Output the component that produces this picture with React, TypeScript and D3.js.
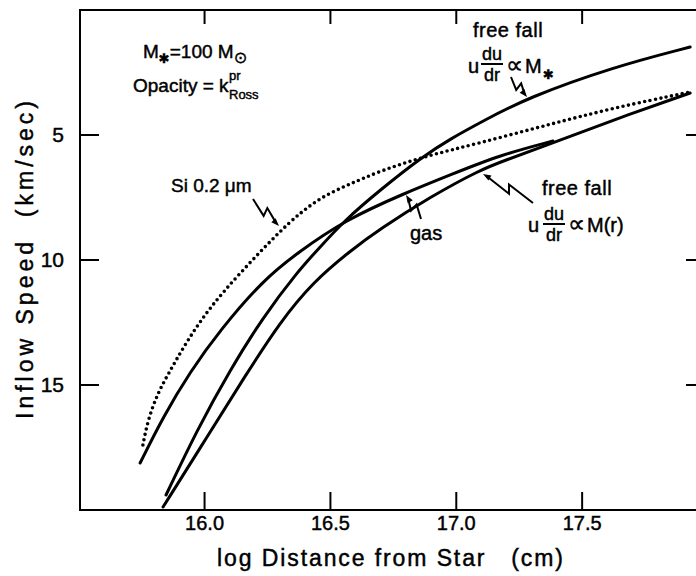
import React from 'react';
import * as d3 from 'd3';

// ---- data (log distance [cm], inflow speed [km/s]) ----
const xTicks = [16.0, 16.5, 17.0, 17.5];
const yTicks = [5, 10, 15];

const siLogR = [15.755, 15.775, 15.811, 15.851, 15.93, 16.022, 16.141, 16.292, 16.379, 16.471, 16.578, 16.697, 16.864, 17.094, 17.36, 17.623, 17.929];
const siSpeed = [17.4, 16.4, 15.4, 14.64, 13.24, 11.88, 10.52, 8.92, 8.12, 7.44, 6.96, 6.44, 5.88, 5.32, 4.6, 3.92, 3.28];

const gasLogR = [15.744, 15.835, 15.942, 16.062, 16.233, 16.368, 16.558, 16.797, 16.975, 17.174, 17.384];
const gasSpeed = [18.12, 16.28, 14.48, 12.8, 10.8, 9.72, 8.4, 7.32, 6.6, 5.8, 5.24];

const ffStarLogR = [15.847, 15.97, 16.101, 16.233, 16.368, 16.459, 16.558, 16.697, 16.864, 16.975, 17.114, 17.281, 17.623, 17.929];
const ffStarSpeed = [19.4, 16.8, 14.4, 12.28, 10.48, 9.48, 8.4, 7.2, 5.88, 5.16, 4.4, 3.52, 2.28, 1.48];

const ffMrLogR = [15.835, 16.01, 16.161, 16.3, 16.431, 16.578, 16.697, 16.896, 17.094, 17.186, 17.384, 17.623, 17.929];
const ffMrSpeed = [19.88, 17.08, 14.64, 12.48, 10.88, 9.64, 8.76, 7.48, 6.4, 6.04, 5.32, 4.4, 3.32];

const W = 696;
const H = 576;
const FONT = "'Liberation Sans', 'DejaVu Sans', Arial, sans-serif";

const x = d3.scaleLinear().domain([15.5, 18.0]).range([78.7, 708]);
const y = d3.scaleLinear().domain([0, 20]).range([10, 510]);

const line = d3
  .line<[number, number]>()
  .x((d) => x(d[0]))
  .y((d) => y(d[1]))
  .curve(d3.curveBasis);

const zip = (a: number[], b: number[]) => a.map((v, i) => [v, b[i]] as [number, number]);

function Zig({ sx, sy, tx, ty }: { sx: number; sy: number; tx: number; ty: number }) {
  const dx = tx - sx;
  const dy = ty - sy;
  const len = Math.hypot(dx, dy);
  const ux = dx / len;
  const uy = dy / len;
  const px = -uy;
  const py = ux;
  const a = [sx + dx * 0.52 + px * 4, sy + dy * 0.52 + py * 4];
  const b = [sx + dx * 0.44 - px * 4, sy + dy * 0.44 - py * 4];
  const hl = 8;
  const hw = 3;
  const base = [tx - ux * hl, ty - uy * hl];
  const endLine = [tx - ux * 4, ty - uy * 4];
  return (
    <g>
      <path
        d={`M${sx},${sy}L${a[0]},${a[1]}L${b[0]},${b[1]}L${endLine[0]},${endLine[1]}`}
        fill="none"
        stroke="#000"
        strokeWidth={2}
        strokeLinejoin="miter"
      />
      <path
        d={`M${tx},${ty}L${base[0] + px * hw},${base[1] + py * hw}L${base[0] - px * hw},${base[1] - py * hw}Z`}
        fill="#000"
      />
    </g>
  );
}

export default function App() {
  const frameRight = x(18.0);
  const frameLeft = x(15.5) + 1.3;
  const top = y(0);
  const bottom = y(20);
  const curveStyle = { fill: 'none', stroke: '#000', strokeWidth: 3, strokeLinecap: 'round' as const };
  return (
    <svg
      width={W}
      height={H}
      viewBox={`0 0 ${W} ${H}`}
      style={{ position: 'absolute', left: 0, top: 0, background: '#fff' }}
      fontFamily={FONT}
    >
      <rect x={0} y={0} width={W} height={H} fill="#fff" />
      {/* frame */}
      <path
        d={`M${frameLeft},${top}L${frameRight},${top}L${frameRight},${bottom}L${frameLeft},${bottom}Z`}
        fill="none"
        stroke="#000"
        strokeWidth={2}
      />
      <g stroke="#000" strokeWidth={0.45}>
        {/* x ticks */}
        {xTicks.map((t) => (
          <g key={'xt' + t}>
            <line x1={x(t)} x2={x(t)} y1={bottom} y2={bottom - 18} strokeWidth={2} />
            <line x1={x(t)} x2={x(t)} y1={top} y2={top + 14} strokeWidth={2} />
            <text x={x(t)} y={530} textAnchor="middle" fontSize={20}>
              {t.toFixed(1)}
            </text>
          </g>
        ))}
        {/* y ticks */}
        {yTicks.map((t) => (
          <g key={'yt' + t}>
            <line x1={frameLeft} x2={frameLeft + 19} y1={y(t)} y2={y(t)} strokeWidth={2} />
            <line x1={frameRight} x2={frameRight - 22} y1={y(t)} y2={y(t)} strokeWidth={2} />
            <text x={64} y={y(t) + 7} textAnchor="end" fontSize={21}>
              {t}
            </text>
          </g>
        ))}
        {/* axis titles */}
        <text x={390} y={566} textAnchor="middle" fontSize={23} textLength={346} lengthAdjust="spacing">
          log Distance from Star{'\u00a0\u00a0\u00a0'}(cm)
        </text>
        <text
          transform="translate(33,260) rotate(-90)"
          textAnchor="middle"
          fontSize={23}
          textLength={318}
          lengthAdjust="spacing"
        >
          Inflow Speed{'\u00a0\u00a0'}(km/sec)
        </text>

        {/* top-left annotation */}
        <text x={143} y={58} fontSize={19}>
          M
          <tspan dy={5} fontSize={13} fontFamily="'DejaVu Sans'">✱</tspan>
          <tspan dy={-5}>=100 M</tspan>
          <tspan dy={5} fontSize={16} fontFamily="'DejaVu Sans'">⊙</tspan>
        </text>
        <text x={133} y={92} fontSize={19}>
          Opacity = k
        </text>
        <text x={229} y={80} fontSize={13}>pr</text>
        <text x={229} y={99} fontSize={13}>Ross</text>

        {/* free fall M* label */}
        <text x={473} y={37} fontSize={20} letterSpacing={0.5}>free fall</text>
        <text x={468} y={73} fontSize={20}>u</text>
        <text x={492} y={60} fontSize={18} textAnchor="middle">du</text>
        <text x={492} y={81} fontSize={18} textAnchor="middle">dr</text>
        <text x={506} y={73} fontSize={24} fontFamily="'DejaVu Sans'">∝</text>
        <text x={525} y={73} fontSize={20}>M</text>
        <text x={543} y={79} fontSize={13} fontFamily="'DejaVu Sans'">✱</text>

        {/* free fall M(r) label */}
        <text x={542} y={195} fontSize={20} letterSpacing={0.5}>free fall</text>
        <text x={528} y={232} fontSize={20}>u</text>
        <text x={554} y={220} fontSize={18} textAnchor="middle">du</text>
        <text x={554} y={241} fontSize={18} textAnchor="middle">dr</text>
        <text x={568} y={232} fontSize={24} fontFamily="'DejaVu Sans'">∝</text>
        <text x={587} y={232} fontSize={20}>M(r)</text>

        {/* gas label */}
        <text x={410} y={240} fontSize={20}>gas</text>

        {/* Si label */}
        <text x={171} y={192} fontSize={19}>Si 0.2 μm</text>
      </g>

      <line x1={481} x2={503} y1={64} y2={64} stroke="#000" strokeWidth={2} />
      <line x1={543} x2={565} y1={224} y2={224} stroke="#000" strokeWidth={2} />
      <Zig sx={511} sy={77} tx={527} ty={97} />
      <Zig sx={533} sy={203} tx={483} ty={174} />
      <Zig sx={421} sy={219} tx={406} ty={195} />
      <Zig sx={253} sy={199} tx={279} ty={226} />

      {/* curves */}
      <path d={line(zip(siLogR, siSpeed)) || ''} fill="none" stroke="#000" strokeWidth={3.6} strokeLinecap="round" strokeDasharray="0 5.5" />
      <path d={line(zip(gasLogR, gasSpeed)) || ''} style={curveStyle} />
      <path d={line(zip(ffStarLogR, ffStarSpeed)) || ''} style={curveStyle} />
      <path d={line(zip(ffMrLogR, ffMrSpeed)) || ''} style={curveStyle} />
    </svg>
  );
}
